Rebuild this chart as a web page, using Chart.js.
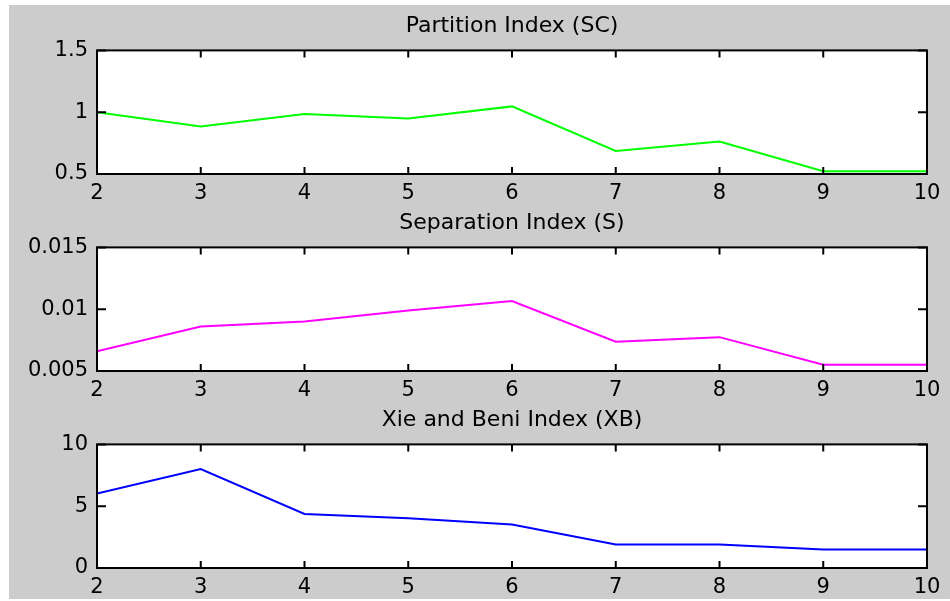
<!DOCTYPE html>
<html>
<head>
<meta charset="utf-8">
<script src="https://cdn.jsdelivr.net/npm/chart.js@4"></script>
<style>
  html, body { margin: 0; padding: 0; background: #fff; overflow: hidden; width: 950px; height: 601px; }
  #fig { position: absolute; left: 9px; top: 5px; width: 941px; height: 594px; background: #cccccc; }
  canvas { position: absolute; left: 0; }
</style>
</head>
<body>
<div id="fig"></div>
<canvas id="c1" width="1024" height="200" style="top:9px"></canvas>
<canvas id="c2" width="1024" height="200" style="top:206px"></canvas>
<canvas id="c3" width="1024" height="200" style="top:403px"></canvas>
<script>
// datos
const xValues = [2, 3, 4, 5, 6, 7, 8, 9, 10];
const scValues = [1.0, 0.885, 0.985, 0.95, 1.047, 0.687, 0.762, 0.522, 0.522];
const sValues = [0.0066, 0.0086, 0.009, 0.0099, 0.01066, 0.00737, 0.00774, 0.0055, 0.0055];
const xbValues = [6.03, 8.0, 4.37, 4.03, 3.52, 1.9, 1.9, 1.5, 1.5];

const scTicks = [0.5, 1, 1.5];
const sTicks = [0.005, 0.01, 0.015];
const xbTicks = [0, 5, 10];

const titles = ['Partition Index (SC)', 'Separation Index (S)', 'Xie and Beni Index (XB)'];

Chart.defaults.font.family = "'DejaVu Sans', sans-serif";
Chart.defaults.font.size = 21;
Chart.defaults.color = '#000';

// caja negra + ticks hacia adentro, estilo matlab
const matlabAxes = {
    id: 'matlabAxes',
    beforeDraw(chart) {
        const { ctx, chartArea: a } = chart;
        ctx.save();
        ctx.fillStyle = '#fff';
        ctx.fillRect(a.left, a.top, a.right - a.left, a.bottom - a.top);
        ctx.restore();
    },
    afterDraw(chart) {
        const { ctx, chartArea: a, scales } = chart;
        ctx.save();
        ctx.strokeStyle = '#000';
        ctx.lineWidth = 2;
        ctx.strokeRect(a.left, a.top, a.right - a.left, a.bottom - a.top);
        ctx.beginPath();
        scales.x.ticks.forEach(t => {
            const px = scales.x.getPixelForValue(t.value);
            ctx.moveTo(px, a.bottom); ctx.lineTo(px, a.bottom - 7);
            ctx.moveTo(px, a.top); ctx.lineTo(px, a.top + 7);
        });
        scales.y.ticks.forEach(t => {
            const py = scales.y.getPixelForValue(t.value);
            ctx.moveTo(a.left, py); ctx.lineTo(a.left + 9, py);
            ctx.moveTo(a.right, py); ctx.lineTo(a.right - 9, py);
        });
        ctx.stroke();
        ctx.restore();
    }
};

function crearPanel(id, titulo, valores, yTicks, color) {
    return new Chart(document.getElementById(id), {
        type: 'line',
        data: {
            datasets: [{
                data: xValues.map((x, i) => ({ x, y: valores[i] })),
                borderColor: color,
                borderWidth: 2,
                pointRadius: 0,
                tension: 0
            }]
        },
        options: {
            responsive: false,
            animation: false,
            layout: { padding: 0 },
            plugins: {
                legend: { display: false },
                tooltip: { enabled: false },
                title: {
                    display: true,
                    text: titulo,
                    font: { size: 22, weight: 'normal' },
                    color: '#000',
                    padding: { top: 4, bottom: 11 }
                }
            },
            scales: {
                x: {
                    type: 'linear',
                    min: xValues[0],
                    max: xValues[xValues.length - 1],
                    grid: { display: false, drawTicks: false },
                    border: { display: false },
                    afterBuildTicks: s => { s.ticks = xValues.map(v => ({ value: v })); },
                    afterFit: s => { s.height = 35; },
                    ticks: { padding: 7, maxRotation: 0, autoSkip: false, callback: v => String(v) }
                },
                y: {
                    min: yTicks[0],
                    max: yTicks[yTicks.length - 1],
                    grid: { display: false, drawTicks: false },
                    border: { display: false },
                    afterBuildTicks: s => { s.ticks = yTicks.map(v => ({ value: v })); },
                    afterFit: s => { s.width = 97; },
                    ticks: { padding: 9, callback: v => String(v) }
                },
                // eje vacio a la derecha: deja el area centrada para que el titulo quede sobre el eje
                yR: {
                    position: 'right',
                    min: yTicks[0],
                    max: yTicks[yTicks.length - 1],
                    grid: { display: false, drawTicks: false },
                    border: { display: false },
                    ticks: { display: false },
                    afterFit: s => { s.width = 97; }
                }
            }
        },
        plugins: [matlabAxes]
    });
}

crearPanel('c1', titles[0], scValues, scTicks, '#00ff00');
crearPanel('c2', titles[1], sValues, sTicks, '#ff00ff');
crearPanel('c3', titles[2], xbValues, xbTicks, '#0000ff');
</script>
</body>
</html>
